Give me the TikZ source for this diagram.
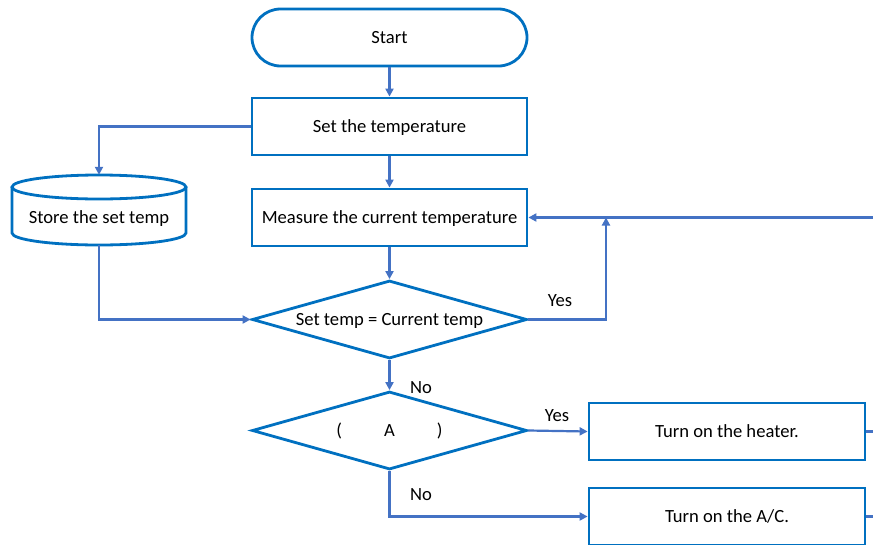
\documentclass[tikz,border=0pt]{standalone}
\usepackage{fontspec}
\setmainfont{Carlito}
\usetikzlibrary{shapes.geometric,arrows.meta}

\definecolor{boxblue}{RGB}{0,112,192}
\definecolor{lineblue}{RGB}{68,114,196}

\begin{document}
\begin{tikzpicture}[x=1pt,y=1pt,
	font=\fontsize{18.6}{22}\selectfont,
	box/.style={draw=boxblue,line width=2.8pt,fill=white,minimum width=275pt,minimum height=57pt,inner sep=0pt,text height=12pt,text depth=0pt},
	startbox/.style={box,rounded corners=28.5pt},
	decision/.style={draw=boxblue,line width=2.8pt,diamond,aspect=3.5,minimum width=275pt,minimum height=78pt,inner sep=0pt,text height=12pt,text depth=0pt},
	conn/.style={draw=lineblue,line width=2.2pt,-{Triangle[length=8pt,width=8pt]}},
	stub/.style={draw=lineblue,line width=2.2pt}]

\useasboundingbox (0,0) rectangle (873,-544);

\node[startbox] (start) at (389.5,-37.5) {Start};
\node[box] (set) at (389.5,-126.5) {Set the temperature};
\node[box] (measure) at (389.5,-217.5) {Measure the current temperature};
\node[decision] (check) at (389.5,-319.5) {Set temp = Current temp};
\node[decision] (choose) at (389.5,-430.5) {(\hspace{42pt}A\hspace{42pt})};
\node[box,minimum width=276pt] (heater) at (727,-431.5) {Turn on the heater.};
\node[box,minimum width=276pt] (ac) at (727,-516.5) {Turn on the A/C.};

% store: cylinder drawn by hand round an empty node
\node[minimum width=174pt,minimum height=70pt,inner sep=0pt,
	label={[yshift=-7pt,text height=12pt,text depth=0pt]center:Store the set temp}] (store) at (99,-210) {};
\draw[boxblue,line width=2.8pt] (12,-187) -- (12,-233) arc[start angle=180,end angle=360,x radius=87pt,y radius=12pt] -- (186,-187);
\draw[boxblue,line width=2.8pt] (99,-187) ellipse[x radius=87pt,y radius=12pt];

\coordinate (loop) at (606,-217.5);
\coordinate (feed) at (873,-217.5);
\coordinate (heaterout) at (873,-431.5);
\coordinate (acout) at (873,-516.5);

\draw[conn] (start) -- (set);
\draw[conn] (set) -- (measure);
\draw[conn] (measure) -- (check);
\draw[conn] (check) -- (choose);
\draw[conn] (set.west) -| (store.north);
\draw[conn] (store.south) |- (check.west);
\draw[conn] (check.east) -| (loop);
\draw[conn] (feed) -- (measure.east);
\draw[conn] (choose.east) -- (heater.west);
\draw[conn] (choose.south) |- (ac.west);
\draw[stub] (heater.east) -- (heaterout);
\draw[stub] (ac.east) -- (acout);

\node (yes1) at (560,-301) {Yes};
\node (no1) at (421,-388) {No};
\node (yes2) at (557,-416) {Yes};
\node (no2) at (421,-495) {No};
\end{tikzpicture}
\end{document}
